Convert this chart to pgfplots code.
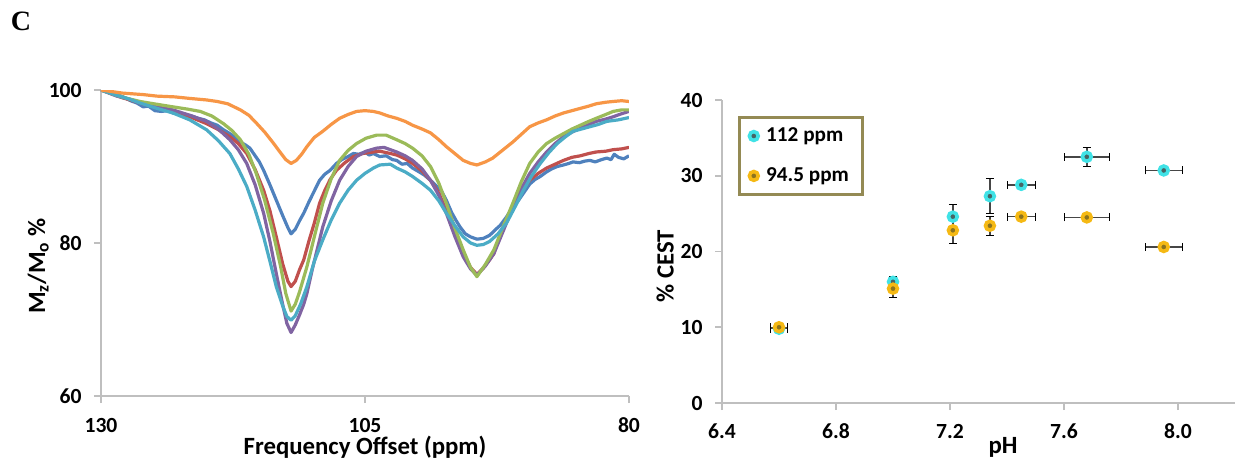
\documentclass[border=0pt]{standalone}
\usepackage{fontspec}
\setmainfont{Carlito}
\newfontfamily\timesfont{Liberation Serif}
\usepackage{pgfplots}
\usepackage{pgfplotstable}
\pgfplotsset{compat=1.18}

\definecolor{cBlue}{HTML}{4F81BD}
\definecolor{cRed}{HTML}{C0504D}
\definecolor{cGreen}{HTML}{9BBB59}
\definecolor{cPurple}{HTML}{8064A2}
\definecolor{cTeal}{HTML}{4BACC6}
\definecolor{cOrange}{HTML}{F79646}
\definecolor{axgray}{HTML}{BFBFBF}
\definecolor{legcol}{HTML}{948A54}
\definecolor{mcyan}{RGB}{64,226,230}
\definecolor{mcyanin}{RGB}{70,100,100}
\definecolor{mgold}{RGB}{245,185,20}
\definecolor{mgoldin}{RGB}{140,115,30}
\definecolor{errcol}{RGB}{70,70,70}

\newcommand{\tickfont}{\fontsize{10.8bp}{13bp}\selectfont\bfseries}
\newcommand{\labfont}{\fontsize{12.4bp}{14bp}\selectfont\bfseries}
\newcommand{\legfont}{\fontsize{10.6bp}{12bp}\selectfont\bfseries}

\pgfplotstableread{
ppm val
130 100
128 99.6
126 99.4
124.7 99.2
123 99.1
121.6 98.9
120 98.7
119 98.5
118 98.2
116.8 97.4
116 96.7
115.3 95.7
114.5 94.5
113.7 93.1
113 91.8
112.5 90.9
112 90.4
111.5 90.8
111 91.6
110.5 92.6
109.8 93.8
109 94.6
108.2 95.5
107.4 96.3
106.6 96.8
105.8 97.2
105 97.3
104.2 97.2
103.6 97.0
102.8 96.6
102 96.3
101.2 95.9
100.5 95.4
99.6 94.9
98.8 94.4
98 93.5
97.3 92.6
96.5 91.7
95.7 90.8
95 90.4
94.4 90.2
93.6 90.6
92.9 91.1
92 92.1
91 93.2
90.2 94.2
89.4 95.2
88.6 95.7
87.8 96.1
87 96.6
86.2 97.0
85.4 97.3
84.6 97.6
83.8 97.9
83.1 98.2
82.2 98.4
81.5 98.5
80.7 98.6
80 98.5
}\tblOrange

\pgfplotstableread{
ppm val
130 100
129.2 99.7
128.5 99.4
127.9 99.1
127.2 98.6
126.6 98.3
126.0 97.8
125.5 97.9
124.9 97.3
124.3 97.2
123.7 97.3
123.2 97.0
122.6 96.9
122.0 96.8
121.4 96.6
120.8 96.3
120.2 96.1
119.6 95.7
119.0 95.4
118.4 94.8
117.8 94.3
117.3 93.8
116.8 93.2
116.3 92.8
115.9 92.4
115.5 91.6
115.0 90.6
114.6 89.5
114.0 87.6
113.4 85.6
112.8 83.6
112.3 82.0
112.0 81.2
111.6 81.8
111.2 82.9
110.8 83.9
110.3 85.4
109.8 86.8
109.3 88.2
108.8 89.0
108.3 89.5
107.7 90.4
107.2 90.9
106.6 91.3
106.1 91.7
105.6 91.6
105.0 91.9
104.6 91.5
104.2 91.7
103.6 91.3
103.0 91.4
102.4 90.9
102.0 90.8
101.5 90.3
101.0 90.4
100.5 89.8
100.0 89.4
99.4 88.9
98.8 88.2
98.2 87.4
97.8 86.9
97.3 85.6
96.8 84.0
96.4 83.0
96.0 82.1
95.5 81.2
95.0 80.8
94.4 80.5
93.8 80.6
93.2 81.0
92.6 81.8
92.2 82.3
91.6 83.4
91.0 84.7
90.5 85.5
90.0 86.5
89.4 87.7
88.9 88.3
88.4 88.7
87.8 89.3
87.3 89.7
86.8 90.0
86.2 90.2
85.7 90.4
85.3 90.6
84.7 90.5
84.2 90.7
83.7 90.8
83.2 90.6
82.6 90.9
82.1 91.1
81.7 90.9
81.4 91.6
81.0 91.2
80.5 91.0
80 91.4
}\tblBlue

\pgfplotstableread{
ppm val
130 100
129 99.5
128 99.0
127 98.6
126.3 98.3
125 97.8
123.2 97.2
121.6 96.5
120 95.6
119 94.9
117.8 93.9
117 93.0
116.2 91.7
115.4 89.6
114.6 86.9
114 84.2
113.4 80.8
112.8 77.3
112.3 75.0
112.0 74.3
111.6 75.0
111.2 76.5
110.8 77.8
110.3 80.3
109.8 82.6
109.3 85.2
108.8 86.9
108.3 88.3
107.7 89.5
106.9 90.5
106.1 91.3
105.2 91.7
104.2 91.9
103.6 92.0
102.6 91.7
102.0 91.5
101.2 91.0
100.5 90.4
99.6 89.4
98.8 88.2
98 86.5
97.3 84.3
96.5 81.3
95.7 78.6
95 76.8
94.4 75.9
93.8 76.7
93.2 77.8
92.8 78.6
92 81.8
91.0 84.7
90.2 86.7
89.4 88.2
88.6 89.1
87.8 89.8
87 90.3
86.2 90.8
85.4 91.2
84.6 91.4
83.8 91.7
83.1 91.9
82.2 92.0
81.5 92.2
80.7 92.3
80 92.5
}\tblRed

\pgfplotstableread{
ppm val
130 100
128.5 99.3
127.5 98.9
126.3 98.5
125 98.2
123.2 97.8
121.8 97.5
120.6 97.2
119.5 96.6
118.4 95.6
117.6 94.7
116.8 93.5
116 91.6
115.3 89.1
114.5 85.6
113.7 81.3
113.0 77.0
112.5 73.4
112.0 71.1
111.6 72.0
111.2 73.6
110.5 76.9
109.8 80.8
109.0 85.2
108.2 88.4
107.4 90.8
106.6 92.1
105.8 93.0
104.9 93.7
103.9 94.1
103.0 94.1
102.0 93.5
101.2 93.0
100.5 92.4
99.6 91.4
98.8 90.0
98.0 87.8
97.3 85.2
96.5 82.0
95.7 79.1
95.0 76.8
94.4 75.6
93.6 77.2
92.8 79.1
91.9 82.2
91.0 85.2
90.2 88.0
89.4 90.4
88.6 91.9
87.8 93.0
87.0 93.7
86.2 94.3
85.4 94.9
84.6 95.4
83.8 95.9
83.1 96.3
82.2 96.8
81.5 97.2
80.7 97.4
80 97.4
}\tblGreen

\pgfplotstableread{
ppm val
130 100
128.5 99.2
127.3 98.8
126.3 98.3
124.7 97.8
123.2 97.4
121.6 96.7
120 95.9
118.9 94.9
117.8 93.5
117.0 92.2
116.2 90.4
115.4 87.6
114.6 83.9
114.0 80.2
113.4 76.0
112.8 72.0
112.4 69.5
112.0 68.3
111.6 69.3
111.2 70.6
110.8 72.0
110.5 73.4
110.0 76.5
109.5 79.3
109.0 82.1
108.2 85.5
107.4 88.2
106.6 90.0
105.8 91.3
104.9 92.0
103.9 92.4
103.2 92.5
102.6 92.2
102.0 91.9
101.2 91.4
100.5 90.8
99.6 89.7
98.8 88.2
98.0 86.2
97.3 83.9
96.5 80.9
95.7 78.2
95.0 76.6
94.4 75.8
93.6 77.0
92.8 78.6
91.9 81.6
91.0 84.7
90.2 87.1
89.4 89.1
88.6 90.6
87.8 91.9
87.0 93.0
86.2 93.9
85.4 94.5
84.6 95.0
83.8 95.5
83.1 95.9
82.2 96.2
81.5 96.5
80.7 96.9
80 97.2
}\tblPurple

\pgfplotstableread{
ppm val
130 100
128.5 99.3
127.3 98.8
126.3 98.3
124.7 97.6
123.2 97.0
121.6 96.1
120 94.8
118.9 93.4
117.8 91.7
117.0 89.7
116.2 87.4
115.4 84.3
114.6 80.8
114.0 77.6
113.4 74.3
112.8 71.8
112.4 70.4
112.0 69.9
111.6 70.5
111.1 72.0
110.5 74.3
109.8 77.6
109.0 80.4
108.2 83.0
107.4 85.2
106.6 86.9
105.8 88.2
105.0 89.1
104.2 89.8
103.6 90.2
102.6 90.3
102.0 89.8
101.2 89.3
100.5 88.7
99.6 87.8
98.8 86.9
98.0 85.5
97.3 83.9
96.5 82.3
95.7 80.8
95.0 80.0
94.4 79.7
93.8 79.8
93.2 80.2
92.4 81.2
91.6 82.6
90.8 84.7
90.0 86.9
89.2 88.8
88.4 90.4
87.6 91.8
86.8 93.0
86.0 93.9
85.3 94.6
84.5 94.9
83.7 95.2
82.9 95.5
82.1 95.9
81.0 96.1
80 96.4
}\tblTeal

\pgfplotstableread{
x y ex ey
6.60 9.8 0.03 0.3
7.00 16.0 0 0.7
7.21 24.6 0 1.6
7.34 27.3 0 2.3
7.45 28.8 0.05 0.4
7.68 32.5 0.08 1.2
7.95 30.7 0.065 0.3
}\tblCyan

\pgfplotstableread{
x y ex ey
6.60 10.0 0.03 0.3
7.00 15.1 0 1.1
7.21 22.8 0 1.7
7.34 23.4 0 1.3
7.45 24.6 0.05 0.3
7.68 24.5 0.08 0.3
7.95 20.6 0.065 0.3
}\tblGold

\pgfplotsset{
  chartbase/.style={
    scale only axis,
    axis lines=left,
    axis line style={-, draw=axgray, line width=0.9bp},
    tick style={draw=axgray, line width=0.9bp},
    tick align=outside,
    major tick length=3.5bp,
    tick label style={font=\tickfont},
    /pgf/number format/assume math mode=true,
    xticklabel style={anchor=base, inner sep=0pt, yshift=-14.5bp},
    yticklabel style={anchor=east, inner sep=0pt, xshift=-6bp},
  }
}

\begin{document}
\begin{tikzpicture}
\useasboundingbox (0,0) rectangle (627bp,232bp);
\node[font={\timesfont\bfseries\fontsize{14bp}{16bp}\selectfont}] at (10.5bp,221.5bp) {C};

\begin{axis}[chartbase,
  at={(50.5bp,34bp)}, anchor=south west,
  width=264bp, height=153bp,
  xmin=80, xmax=130, x dir=reverse, ymin=60, ymax=100,
  xtick={80,105,130}, ytick={60,80,100},
  xlabel={Frequency Offset (ppm)},
  ylabel={M\textsubscript{z}/M\textsubscript{o} \%},
  xlabel style={at={(axis description cs:0.5,-0.19)}, anchor=base, font=\labfont},
  ylabel style={at={(axis description cs:-0.119,0.425)}, anchor=center, font=\labfont},
  every axis plot/.append style={line width=1.6bp, line join=round, no marks},
]
\addplot[cBlue] table[x=ppm, y=val] \tblBlue;
\addplot[cRed] table[x=ppm, y=val] \tblRed;
\addplot[cPurple] table[x=ppm, y=val] \tblPurple;
\addplot[cGreen] table[x=ppm, y=val] \tblGreen;
\addplot[cTeal] table[x=ppm, y=val] \tblTeal;
\addplot[cOrange] table[x=ppm, y=val] \tblOrange;
\end{axis}

\begin{axis}[chartbase,
  at={(361bp,30.5bp)}, anchor=south west,
  width=256.5bp, height=151.5bp,
  xmin=6.4, xmax=8.2, ymin=0, ymax=40,
  xtick={6.4,6.8,7.2,7.6,8.0}, xticklabels={6.4,6.8,7.2,7.6,8.0},
  ytick={0,10,20,30,40},
  xlabel={pH}, ylabel={\% CEST},
  xlabel style={at={(axis description cs:0.548,-0.168)}, anchor=base, font=\labfont},
  ylabel style={at={(axis description cs:-0.111,0.452)}, anchor=center, font=\labfont},
  legend style={at={(0.031,0.947)}, anchor=north west, draw=legcol, line width=1.5bp,
    font=\legfont, inner xsep=5bp, inner ysep=3bp, row sep=7.5bp,
    nodes={inner sep=2bp},
    /tikz/every odd column/.append style={column sep=2bp}},
  legend cell align=left,
  legend image code/.code={\draw[#1] plot coordinates {(0bp,0bp)};},
]
\addplot[only marks, mark=*, mark size=2.2bp,
  mark options={draw=mcyan, fill=mcyanin, line width=1.8bp},
  error bars/.cd, x dir=both, x explicit, y dir=both, y explicit,
  error bar style={draw=errcol, line width=0.7bp, mark size=2bp}]
  table[x=x, y=y, x error=ex, y error=ey] \tblCyan;
\addlegendentry{112 ppm}
\addplot[only marks, mark=*, mark size=2.2bp,
  mark options={draw=mgold, fill=mgoldin, line width=1.8bp},
  error bars/.cd, x dir=both, x explicit, y dir=both, y explicit,
  error bar style={draw=errcol, line width=0.7bp, mark size=2bp}]
  table[x=x, y=y, x error=ex, y error=ey] \tblGold;
\addlegendentry{94.5 ppm}
\end{axis}
\end{tikzpicture}
\end{document}
